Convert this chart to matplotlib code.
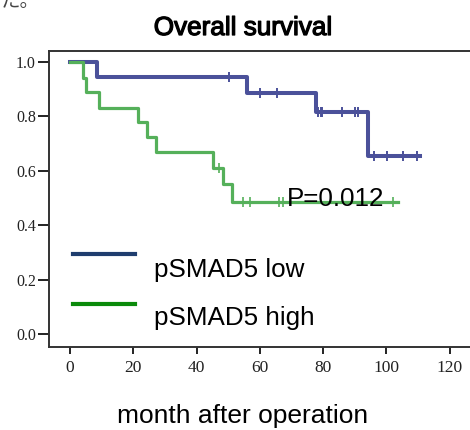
import numpy as np
import matplotlib
matplotlib.use("Agg")
import matplotlib.pyplot as plt
import matplotlib.patheffects as pe

# Kaplan-Meier steps (months, survival)
low_times = [0, 8.4, 55.8, 77.9, 94.3, 110.6]
low_surv = [1.0, 0.944, 0.887, 0.817, 0.653, 0.653]
low_censor = [50.2, 60.2, 65.3, 78.5, 79.2, 79.8, 86.1, 90.0, 91.1, 96.1, 100.3, 105.3, 109.7]

high_times = [0, 4.2, 5.1, 9.2, 21.6, 24.2, 27.2, 45.3, 48.2, 51.3, 103.6]
high_surv = [1.0, 0.94, 0.888, 0.832, 0.778, 0.723, 0.668, 0.611, 0.55, 0.487, 0.487]
high_censor = [47.2, 54.8, 56.9, 66.1, 67.4, 102.2]

xticks = [0, 20, 40, 60, 80, 100, 120]
yticks = [0.0, 0.2, 0.4, 0.6, 0.8, 1.0]
p_text = "P=0.012"

LOW_C = "#4b519a"
HIGH_C = "#55b05a"


def surv_at(times, surv, t):
    i = np.searchsorted(times, t, side="right") - 1
    return np.array(surv)[i]


fig = plt.figure(figsize=(4.7, 4.3), dpi=100)
ax = fig.add_axes([49 / 470, 1 - 347 / 430, 426 / 470, 296 / 430])

ax.step(low_times, low_surv, where="post", color=LOW_C, lw=2.9, zorder=2)
ax.plot(low_censor, surv_at(low_times, low_surv, low_censor), ls="none",
        marker="|", ms=7.5, mew=1.4, color=LOW_C, zorder=2)
ax.step(high_times, high_surv, where="post", color=HIGH_C, lw=2.3, zorder=3)
ax.plot(high_censor, surv_at(high_times, high_surv, high_censor), ls="none",
        marker="|", ms=7, mew=1.2, color=HIGH_C, zorder=3)

ax.text(68.6, 0.47, p_text, fontsize=18.7, family="Liberation Sans",
        va="baseline", ha="left", zorder=4)

# hand-made legend
ax.plot([0.056, 0.202], [0.314, 0.314], transform=ax.transAxes, color="#1f3d6e", lw=3)
ax.text(0.246, 0.236, "pSMAD5 low", transform=ax.transAxes, fontsize=18.7,
        family="Liberation Sans", va="baseline")
ax.plot([0.056, 0.202], [0.145, 0.145], transform=ax.transAxes, color="#0a8a0a", lw=3)
ax.text(0.246, 0.074, "pSMAD5 high", transform=ax.transAxes, fontsize=18.7,
        family="Liberation Sans", va="baseline")

ax.set_xlim(-6.64, 128)
ax.set_ylim(-0.048, 1.0404)
ax.set_xticks(xticks)
ax.set_yticks(yticks)
ax.set_xticklabels([str(v) for v in xticks], family="Liberation Serif", fontsize=12.5)
ax.set_yticklabels([f"{v:.1f}" for v in yticks], family="Liberation Serif", fontsize=11.5)
ax.tick_params(axis="x", length=5, width=1.4, pad=4.5, colors="#222222")
ax.tick_params(axis="y", length=8, width=1.4, pad=1.5, colors="#222222")
for s in ax.spines.values():
    s.set_linewidth(1.4)
    s.set_color("#333333")

fig.text(0.517, 1 - 35 / 430, "Overall survival", ha="center", va="baseline",
         fontsize=18.8, family="Liberation Sans",
         path_effects=[pe.withStroke(linewidth=0.9, foreground="black")])
fig.text(0.516, 1 - 423 / 430, "month after operation", ha="center", va="baseline",
         fontsize=19, family="Liberation Sans")
# cropped caption fragment at the very top
fig.text(0.0, 1 - 7 / 430, "た。", ha="left", va="baseline", fontsize=14,
         family=["Noto Sans CJK JP", "DejaVu Sans"], color="#444444")

fig.savefig("out.png", dpi=100)
